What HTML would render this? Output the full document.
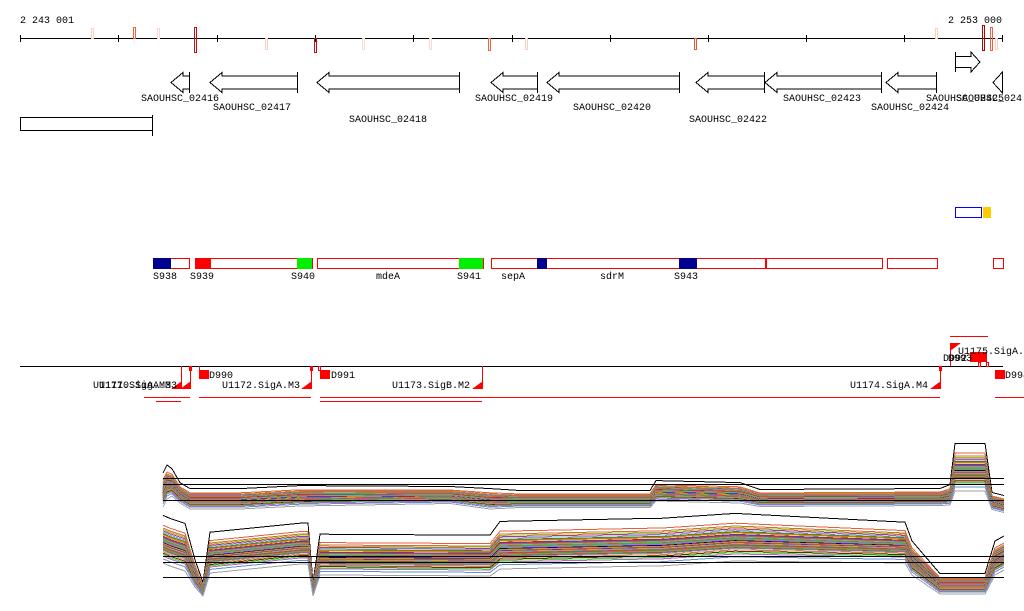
<!DOCTYPE html>
<html><head><meta charset="utf-8">
<style>
html,body{margin:0;padding:0;background:#fff;}
svg{display:block;}
svg *{shape-rendering:crispEdges;}
text{font-family:"Liberation Mono",monospace;font-size:10px;fill:#000;}
</style></head>
<body>
<svg id="chart" width="1024" height="611" viewBox="0 0 1024 611" xmlns="http://www.w3.org/2000/svg">
<g id="ruler">
  <text x="20" y="23">2 243 001</text>
  <text x="1002" y="23" text-anchor="end">2 253 000</text>
  <line x1="20" y1="38.5" x2="1002" y2="38.5" stroke="#000"/>
</g>
<g id="marks"></g>
<g id="genes"></g>
<g id="features"></g>
<g id="tss"></g>
<g id="expr"></g>
</svg>
<script>
const NS='http://www.w3.org/2000/svg';
function mk(parent,tag,attrs){const e=document.createElementNS(NS,tag);for(const k in attrs)e.setAttribute(k,attrs[k]);parent.appendChild(e);return e;}

// ruler ticks
const tickPos=[20,118,217,315,413,512,610,708,806,904,1002];
// ruler marks: x, top, bottom, color
const markX=[91,133,157,194,265,314,362,429,488,525,694,935,982,990,995];
const markY0=[28,27,28,27,38,38,38,38,38,38,38,28,25,27,38];
const markY1=[38,38,38,52,49,52,49,49,50,49,49,38,50,50,49];
const markC=['#f8d0c0','#f06040','#f8d8d0','#c01010','#f8d0c0','#c01010','#f8d8d0','#f8d8d0','#f06040','#f8d0c0','#f05030','#f8d0c0','#b00000','#f06040','#f8d0c0'];

// genes
const geneNames=['SAOUHSC_02416','SAOUHSC_02417','SAOUHSC_02418','SAOUHSC_02419','SAOUHSC_02420','SAOUHSC_02422','SAOUHSC_02423','SAOUHSC_02424'];
const geneStart=[171,210,317,491,547,696,765,886];
const geneEnd=[189,297,459,537,679,764,881,936];
const geneLabelX=[141,213,349,475,573,689,783,871];
const geneLabelRow=[0,1,2,0,1,2,0,1];

// features
const featStart=[153,195,317,491,537,766,887,993];
const featEnd=[189,312,483,537,765,882,937,1003];
const fillStart=[153,195,297,459,537,679];
const fillEnd=[171,211,312,483,547,697];
const fillColor=['#000090','#ff0000','#00ee00','#00ee00','#000090','#000090'];
const featLabels=['S938','S939','S940','mdeA','S941','sepA','sdrM','S943'];
const featLabelX=[153,190,291,376,457,501,600,674];

// expression data
const upX=[163,167,172,180,190,240,300,450,490,520,650,656,740,760,940,950,955,985,992,1004];
const upBase=[492,484,484,494,500,500,497,496,500,500,500,492,494,499,498,496,470,470,502,505];
const upSpread=[10,10,8,6,6,6,6,5,6,5,5,6,6,5,5,6,14,14,5,5];
const loX=[163,170,185,195,203,210,300,308,313,320,490,500,650,660,735,905,912,940,946,985,995,1004];
const loBase=[542,545,550,575,590,555,546,546,590,557,558,548,545,545,540,545,560,585,585,585,560,555];
const loSpread=[14,14,14,8,4,12,12,12,4,12,12,14,14,14,14,12,10,6,6,6,10,10];
const seriesOffset=[-1.9,-1.2,-1,-0.9,-0.8,-0.7,-0.6,-0.55,-0.5,-0.4,-0.35,-0.3,-0.25,-0.2,-0.15,-0.1,-0.05,0,0.05,0.1,0.15,0.2,0.25,0.3,0.35,0.4,0.45,0.5,0.55,0.6,0.7,0.8,0.9,1,1.2,1.5];
const seriesColor=['#000','#e06040','#d07030','#a0c020','#c03080','#70b0e0','#806020','#40a040','#ff8000','#903060','#3050c0','#e04040','#a08040','#60c0c0','#c06030','#20d020','#8080ff','#d06080','#000080','#b0b000','#e07050','#7030a0','#f0a000','#50a0e0','#c04040','#808000','#e06090','#30c060','#a05020','#9090c0','#d08040','#603000','#40e040','#c060c0','#6090d0','#a0a0a0'];

const marks=document.getElementById('marks');
tickPos.forEach(x=>{const t=mk(marks,'line',{x1:x+.5,y1:35,x2:x+.5,y2:42,stroke:'#000'});

});
markX.forEach((x,i)=>{const r=mk(marks,'rect',{x:x+.5,y:markY0[i]+.5,width:2,height:markY1[i]-markY0[i],fill:'none',stroke:markC[i],'stroke-width':1});

});

const genes=document.getElementById('genes');
function arrowL(s,e,yc){const h=Math.min(12,e-s);return `M${e},${yc-6.5} L${s+h},${yc-6.5} L${s+h},${yc-10} L${s},${yc} L${s+h},${yc+10} L${s+h},${yc+6.5} L${e},${yc+6.5}`;}
geneNames.forEach((n,i)=>{
 const s=geneStart[i],e=geneEnd[i];
 const p=mk(genes,'path',{d:arrowL(s,e,82.5),fill:'none',stroke:'#000'});
 
 
 mk(genes,'line',{x1:e+.5,y1:72,x2:e+.5,y2:93,stroke:'#000'});
 const t=mk(genes,'text',{x:geneLabelX[i],y:101+geneLabelRow[i]*9+(geneLabelRow[i]==2?3:0)});
 t.textContent=n;
 
 
});
let p2=mk(genes,'path',{d:'M955.5,56.5 L971,56.5 L971,52 L980,62 L971,72 L971,67.5 L955.5,67.5',fill:'none',stroke:'#000'});


mk(genes,'line',{x1:955.5,y1:52,x2:955.5,y2:72,stroke:'#000'});
let p3=mk(genes,'path',{d:'M1002.5,72 L993,82.5 L1002.5,93 Z',fill:'none',stroke:'#000'});


let t2=mk(genes,'text',{x:926,y:101});t2.textContent='SAOUHSC_02425';


let t3=mk(genes,'text',{x:956,y:101});t3.textContent='SAOUHSC_024';


let bx=mk(genes,'rect',{x:20.5,y:117.5,width:132,height:13,fill:'none',stroke:'#000'});


mk(genes,'line',{x1:152.5,y1:115,x2:152.5,y2:136,stroke:'#000'});

const feats=document.getElementById('features');
let b1=mk(feats,'rect',{x:955.5,y:207.5,width:26,height:10,fill:'none',stroke:'#0000ff'});


let b2=mk(feats,'rect',{x:983,y:207,width:8,height:11,fill:'#ffcc00'});


featStart.forEach((s,i)=>{const r=mk(feats,'rect',{x:s+.5,y:258.5,width:featEnd[i]-s,height:10,fill:'none',stroke:'#ff0000'});

});
fillStart.forEach((s,i)=>{const r=mk(feats,'rect',{x:s,y:258,width:fillEnd[i]-s,height:11,fill:fillColor[i]});

});
featLabels.forEach((l,i)=>{const t=mk(feats,'text',{x:featLabelX[i],y:279});t.textContent=l;

});

const tss=document.getElementById('tss');
const bl=mk(tss,'line',{x1:20,y1:366.5,x2:1003,y2:366.5,stroke:'#000'});


const vX=[181,190,311,482,940];
vX.forEach(x=>{mk(tss,'line',{x1:x+.5,y1:366,x2:x+.5,y2:389,stroke:'#f00'});
const tr=mk(tss,'path',{d:`M${x-10},389 L${x+1},389 L${x+1},381 Z`,fill:'#f00'});

});
[[189,366],[310,366],[318,366],[939,366],[978,362],[986,362]].forEach(a=>mk(tss,'rect',{x:a[0]+.5,y:a[1]+.5,width:2,height:4,fill:'none',stroke:'#f00'}));
[[199,370],[320,370],[995,370],[970,352]].forEach((a,i)=>{const r=mk(tss,'rect',{x:a[0],y:a[1],width:i==3?17:10,height:i==3?10:9,fill:'#f00'});

});
mk(tss,'line',{x1:199.5,y1:366,x2:199.5,y2:379,stroke:'#f00'});
mk(tss,'line',{x1:950.5,y1:346,x2:950.5,y2:366,stroke:'#f00'});
mk(tss,'path',{d:'M950,343 L961,343 L950,351 Z',fill:'#f00'});
mk(tss,'line',{x1:950,y1:336.5,x2:988,y2:336.5,stroke:'#f00'});
[[144,190,397],[156,181,401],[199,311,397],[320,940,397],[320,482,401],[995,1024,397]].forEach(a=>{const l=mk(tss,'line',{x1:a[0],y1:a[2]+.5,x2:a[1],y2:a[2]+.5,stroke:'#f00'});

});
[['U1171.SigA.M3',93,388],['U1170.SigA.M3',99,388],['D990',209,378],['U1172.SigA.M3',222,388],['D991',331,378],['U1173.SigB.M2',392,388],['U1174.SigA.M4',850,388],['U1175.SigA.',958,354],['D992',943,361],['D993',948,361],['D994',1005,378]].forEach(a=>{const t=mk(tss,'text',{x:a[1],y:a[2]});t.textContent=a[0];

});

const expr=document.getElementById('expr');
function drawSet(xs,base,spread){
 seriesOffset.forEach((o,i)=>{
  const pts=xs.map((x,j)=>x+','+(base[j]+o*spread[j]).toFixed(1)).join(' ');
  const pl=mk(expr,'polyline',{points:pts,fill:'none',stroke:seriesColor[i],'stroke-width':1});
  
  
 });
}
drawSet(upX,upBase,upSpread);
drawSet(loX,loBase,loSpread);
[478,484,500,556,562,577].forEach(y=>{const l=mk(expr,'line',{x1:163,y1:y+.5,x2:1004,y2:y+.5,stroke:'#000'});

});
</script>
</body></html>
